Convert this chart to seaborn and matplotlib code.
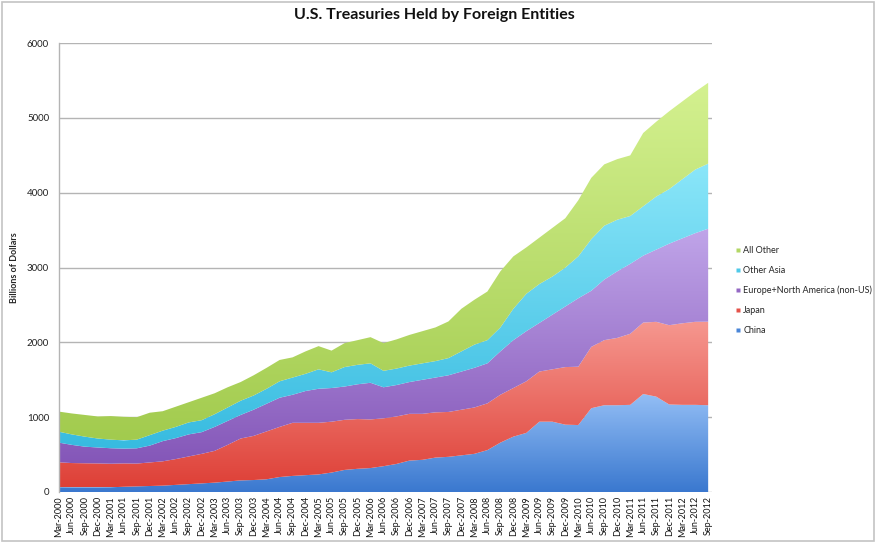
"""
U.S. Treasuries held by foreign entities, stacked area (quarterly, billions USD).
"""

import numpy as np
import pandas as pd
import matplotlib
matplotlib.use("Agg")
import matplotlib.pyplot as plt
from matplotlib.colors import LinearSegmentedColormap
from matplotlib.lines import Line2D
from matplotlib.patches import Rectangle
import seaborn as sns

QUARTERS = pd.date_range("2000-03-01", "2012-09-01", freq="3MS").strftime("%b-%Y").tolist()

china = [63, 62, 62, 62, 63, 70, 75, 80, 85, 95, 105, 115, 125, 140, 155, 160, 170,
         200, 215, 225, 235, 260, 295, 310, 320, 345, 375, 420, 430, 460, 470, 490,
         510, 560, 660, 740, 790, 940, 940, 900, 895, 1120, 1160, 1160, 1165, 1310,
         1275, 1170, 1165, 1165, 1160]
japan = [334, 325, 322, 320, 315, 312, 305, 315, 325, 345, 370, 395, 425, 490, 560,
         590, 640, 670, 710, 700, 690, 680, 670, 665, 650, 640, 635, 625, 615, 605,
         600, 610, 620, 625, 640, 650, 690, 670, 700, 770, 780, 820, 870, 900, 950,
         955, 1000, 1060, 1090, 1110, 1117]
europe_na = [263, 243, 222, 213, 207, 198, 204, 225, 270, 280, 295, 290, 320, 320,
             315, 350, 370, 390, 375, 425, 455, 450, 445, 465, 490, 415, 420, 425,
             455, 465, 490, 510, 530, 535, 580, 640, 670, 650, 730, 810, 915, 750,
             810, 890, 935, 895, 965, 1090, 1135, 1185, 1243]
other_asia = [146, 140, 134, 120, 115, 110, 116, 140, 140, 150, 160, 160, 170, 180,
              190, 190, 200, 220, 230, 230, 260, 210, 260, 260, 260, 220, 220, 220,
              220, 220, 230, 270, 310, 310, 320, 420, 500, 520, 510, 520, 560, 690,
              720, 690, 640, 660, 710, 730, 790, 850, 870]
all_other = [269, 280, 290, 295, 315, 315, 300, 300, 260, 270, 270, 300, 280, 270,
             250, 270, 280, 285, 270, 300, 310, 290, 320, 330, 350, 370, 390, 410,
             430, 450, 490, 570, 600, 650, 750, 700, 620, 620, 650, 660, 750, 820,
             820, 810, 810, 980, 1000, 1040, 1040, 1040, 1080]

SERIES = ["China", "Japan", "Europe+North America (non-US)", "Other Asia", "All Other"]

# (dark bottom, light top) per series, Excel-style vertical gradient
GRADIENTS = [("#3a78cf", "#93bef5"),
             ("#de4037", "#f6978f"),
             ("#8456b8", "#c0a5e9"),
             ("#37bbe0", "#8ae6f9"),
             ("#a2cb4e", "#d4f190")]
LEGEND_COLORS = ["#4a86d8", "#e5524a", "#9468c4", "#4fc9e9", "#b3d765"]

sns.set_style("white")
plt.rcParams["font.family"] = ["Lato", "DejaVu Sans"]

df = pd.DataFrame({"quarter": QUARTERS, "China": china, "Japan": japan,
                   "Europe+North America (non-US)": europe_na,
                   "Other Asia": other_asia, "All Other": all_other})

fig = plt.figure(figsize=(8.78, 5.44), dpi=100)
ax = fig.add_axes([0.067, 0.0956, 0.744, 0.825])

x = np.arange(len(df))
xmax = len(df) - 1 + 0.3
polys = ax.stackplot(x, *[df[s].values for s in SERIES], colors=LEGEND_COLORS,
                     linewidth=0, zorder=2)

# fill each band with a vertical gradient clipped to its shape
cum = np.cumsum(df[SERIES].values, axis=1)
grad = np.linspace(0, 1, 256).reshape(-1, 1)
for k, poly in enumerate(polys):
    lo = 0 if k == 0 else cum[:, k - 1].min()
    hi = cum[:, k].max()
    cmap = LinearSegmentedColormap.from_list(f"g{k}", GRADIENTS[k])
    im = ax.imshow(grad, extent=[0, xmax, lo, hi], origin="lower", cmap=cmap,
                   aspect="auto", zorder=2.5)
    im.set_clip_path(poly.get_paths()[0], transform=ax.transData)
    poly.set_facecolor("none")

ax.set_xlim(0, xmax)
ax.set_ylim(0, 6000)
ax.set_yticks(range(0, 6001, 1000))
ax.yaxis.grid(True, color="#b4b4b4", linewidth=1.0, zorder=1)
ax.set_axisbelow(True)
ax.set_xticks(x)
ax.set_xticklabels(df["quarter"], rotation=90, fontsize=6.5, color="#111111")
ax.tick_params(axis="y", labelsize=7, colors="#222222", length=3, width=0.8,
               color="#b4b4b4", pad=4)
ax.tick_params(axis="x", length=0, pad=3)
for side in ["top", "right", "bottom"]:
    ax.spines[side].set_visible(False)
ax.spines["left"].set_color("#b4b4b4")
ax.spines["left"].set_linewidth(1.0)

ax.set_ylabel("Billions of Dollars", fontsize=6.5, fontweight="bold", labelpad=6)

fig.suptitle("U.S. Treasuries Held by Foreign Entities", x=0.495, y=0.985,
             fontsize=11.5, fontweight="bold", color="#111111")

handles = [Line2D([], [], marker="s", linestyle="none", markersize=3.5,
                  markerfacecolor=LEGEND_COLORS[k], markeredgecolor="none")
           for k in range(len(SERIES))]
fig.legend(handles[::-1], SERIES[::-1], loc="upper left",
           bbox_to_anchor=(0.827, 0.563), frameon=False, fontsize=6.5,
           labelspacing=1.2, handletextpad=0.2, handlelength=0.8)

fig.patches.append(Rectangle((0.002, 0.006), 0.994, 0.99, transform=fig.transFigure,
                             fill=False, edgecolor="#c4c4c4", linewidth=1.2))

fig.savefig("out.png", dpi=100)
